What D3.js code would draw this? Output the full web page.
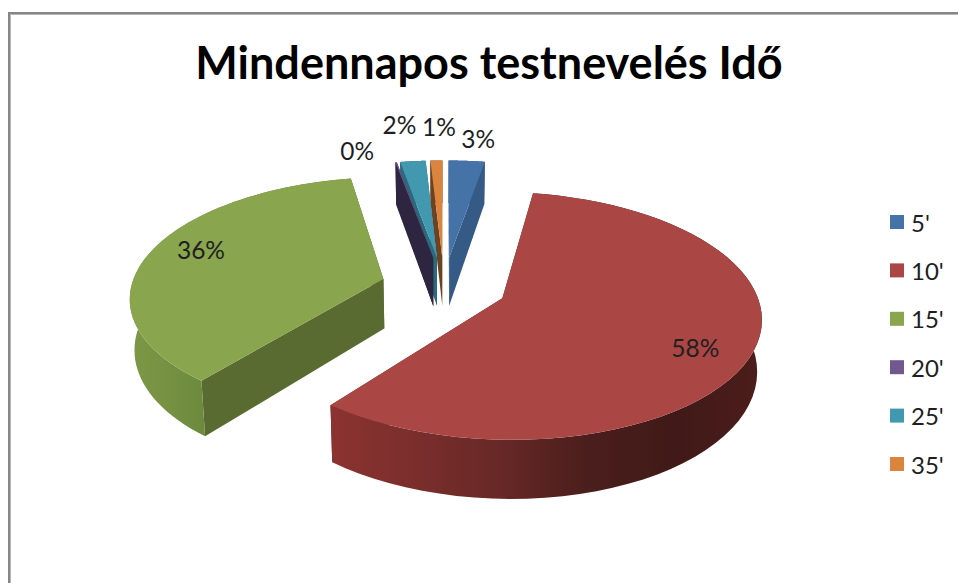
<!DOCTYPE html>
<html>
<head>
<meta charset="utf-8">
<script src="https://cdn.jsdelivr.net/npm/d3@7"></script>
<style>
  html, body { margin: 0; padding: 0; background: #fff; overflow: hidden; }
  text { font-family: Lato, "Open Sans", sans-serif; fill: #1f1f1f; }
</style>
</head>
<body>
<svg id="chart" width="958" height="583"></svg>
<script>
// chart values (percent of answers)
const categories = ["5'", "10'", "15'", "20'", "25'", "35'"];
const shares = [2.7, 58.0, 36.4, 0.1, 1.9, 0.9];
const chartTitle = "Mindennapos testnevelés Idő";

// slice colours: top face, radial wall
const topColors = ["#4572a7", "#aa4643", "#89a54e", "#71588f", "#4198af", "#db843d"];
const wallColors = ["#355a86", "#6e2b29", "#5a6b32", "#2e2640", "#2a6a7c", "#6b4222"];

// label placement along each slice: distance from the apex, and turn in degrees
const labelRadius = [1.27, 0.80, 0.81, 1.18, 1.46, 1.42];
const labelTurn = [1.6, 4.7, 5.0, -7.8, -0.8, 0.9];

const svg = d3.select("#chart");

// frame, only top and left are in the picture
svg.append("path").attr("d", "M9,583V13H958").attr("fill", "none")
  .attr("stroke", "#868686").attr("stroke-width", 2);
svg.append("path").attr("d", "M10.5,583V14.5H958").attr("fill", "none")
  .attr("stroke", "#b4b4b4").attr("stroke-width", 1);

svg.append("text")
  .attr("x", 489).attr("y", 79)
  .attr("text-anchor", "middle")
  .style("font-size", "45px").style("font-weight", 700).style("fill", "#000")
  .text(chartTitle);

// perspective of the pie plane
const tilt = 0.14;
const explode = 0.25;
const depth = 50;
const centerX = 444;
const xScale = d3.scaleLinear().domain([-1, 1]).range([centerX - 252, centerX + 252]);
const yScale = d3.scaleLinear().domain([-1, 1]).range([286 + 118, 286 - 118]);

function project(x, z) {
  const w = 1 + tilt * z;
  return [xScale(x / w), yScale(z / w)];
}
function projectBottom(x, z) {
  const w = 1 + tilt * z;
  return [centerX + (xScale(x / w) - centerX) * 0.985, yScale(z / w) + depth / w];
}

const pie = d3.pie().sort(null).value(d => d);
const arcs = pie(shares);
const line = d3.line();

const defs = svg.append("defs");
function wallGradient(id, stops) {
  const g = defs.append("linearGradient").attr("id", id);
  stops.forEach(s => g.append("stop").attr("offset", s[0]).attr("stop-color", s[1]));
}
wallGradient("redWall", [[0, "#8b3330"], [0.2, "#7a2e2c"], [0.4, "#662826"], [0.6, "#4a1e1c"], [0.8, "#401a18"], [1, "#4c1d1b"]]);
wallGradient("greenWall", [[0, "#7d9947"], [0.34, "#6d893c"], [1, "#6d893c"]]);
const arcWallFill = {1: "url(#redWall)", 2: "url(#greenWall)"};

// walls first, then the top face; small far slices are painted before the big ones
const paintOrder = [0, 5, 4, 3, 2, 1];
paintOrder.forEach(i => {
  const a = arcs[i];
  const mid = (a.startAngle + a.endAngle) / 2;
  const ax = explode * Math.sin(mid), az = explode * Math.cos(mid);
  const steps = d3.range(0, 61).map(k => a.startAngle + (a.endAngle - a.startAngle) * k / 60);
  const rim = steps.map(t => [ax + Math.sin(t), az + Math.cos(t)]);
  const first = rim[0], last = rim[rim.length - 1];
  const g = svg.append("g").attr("class", "slice");

  [first, last].forEach(tip => {
    g.append("path")
      .attr("d", line([project(ax, az), project(tip[0], tip[1]),
        projectBottom(tip[0], tip[1]), projectBottom(ax, az)]) + "Z")
      .attr("fill", wallColors[i]);
  });
  g.append("path")
    .attr("d", line(rim.map(p => project(p[0], p[1]))
      .concat(rim.slice().reverse().map(p => projectBottom(p[0], p[1])))) + "Z")
    .attr("fill", arcWallFill[i] || wallColors[i]);
  g.append("path")
    .attr("d", line([project(ax, az)].concat(rim.map(p => project(p[0], p[1])))) + "Z")
    .attr("fill", topColors[i]);
});

// data labels
const percent = d3.format(".0%");
arcs.forEach((a, i) => {
  const mid = (a.startAngle + a.endAngle) / 2;
  const t = mid + labelTurn[i] * Math.PI / 180;
  const p = project(explode * Math.sin(mid) + labelRadius[i] * Math.sin(t),
    explode * Math.cos(mid) + labelRadius[i] * Math.cos(t));
  svg.append("text")
    .attr("x", p[0]).attr("y", p[1])
    .attr("text-anchor", "middle").attr("dominant-baseline", "central")
    .style("font-size", "24.5px")
    .text(percent(a.value / 100));
});

// legend
const legendY = d3.scalePoint().domain(categories).range([222, 464]);
const legend = svg.append("g").selectAll("g").data(categories).enter().append("g")
  .attr("transform", d => `translate(890,${legendY(d)})`);
legend.append("rect")
  .attr("x", 0).attr("y", -7).attr("width", 14).attr("height", 14)
  .attr("fill", (d, i) => topColors[i]);
legend.append("text")
  .attr("x", 21).attr("y", 0).attr("dominant-baseline", "central")
  .style("font-size", "24px")
  .text(d => d);
</script>
</body>
</html>
